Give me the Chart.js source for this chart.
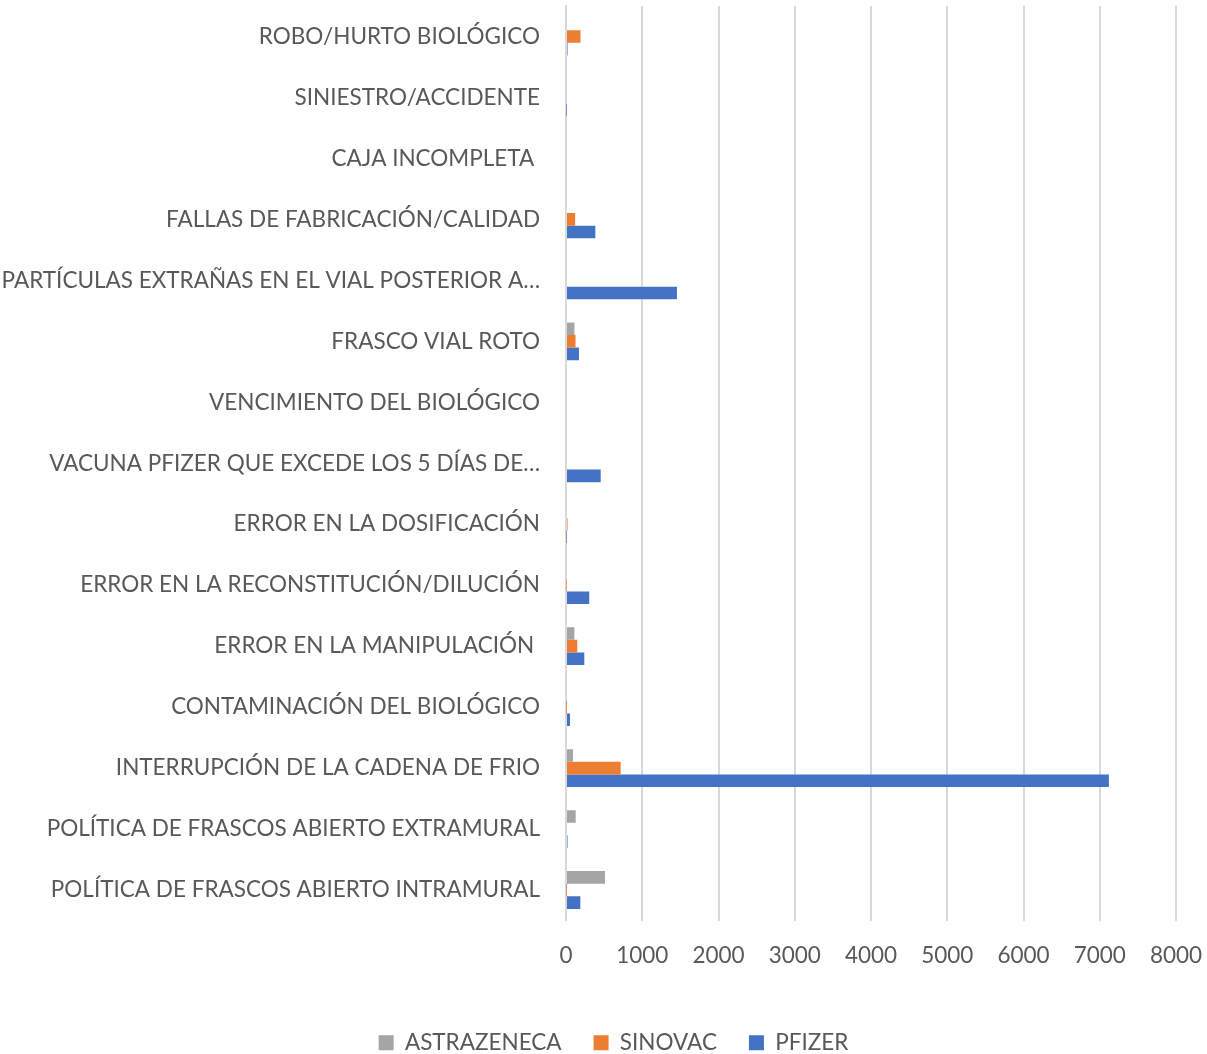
<!DOCTYPE html>
<html>
<head>
<meta charset="utf-8">
<script src="https://cdn.jsdelivr.net/npm/chart.js@4"></script>
<style>
  html, body { margin: 0; padding: 0; background: #fff; }
  #wrap { width: 1207px; height: 1054px; }
</style>
</head>
<body>
<div id="wrap"><canvas id="chart" width="1207" height="1054"></canvas></div>
<script>
// categorias (de arriba hacia abajo)
const categorias = [
    'ROBO/HURTO BIOLÓGICO',
    'SINIESTRO/ACCIDENTE',
    'CAJA INCOMPLETA ',
    'FALLAS DE FABRICACIÓN/CALIDAD',
    'PARTÍCULAS EXTRAÑAS EN EL VIAL POSTERIOR A…',
    'FRASCO VIAL ROTO',
    'VENCIMIENTO DEL BIOLÓGICO',
    'VACUNA PFIZER QUE EXCEDE LOS 5 DÍAS DE…',
    'ERROR EN LA DOSIFICACIÓN',
    'ERROR EN LA RECONSTITUCIÓN/DILUCIÓN',
    'ERROR EN LA MANIPULACIÓN ',
    'CONTAMINACIÓN DEL BIOLÓGICO',
    'INTERRUPCIÓN DE LA CADENA DE FRIO',
    'POLÍTICA DE FRASCOS ABIERTO EXTRAMURAL',
    'POLÍTICA DE FRASCOS ABIERTO INTRAMURAL'
];

const astrazeneca = [0, 0, 0, 0, 0, 110, 0, 0, 0, 0, 110, 0, 92, 127, 511];
const sinovac     = [190, 0, 0, 120, 0, 125, 0, 0, 20, 5, 148, 3, 717, 0, 3];
const pfizer      = [20, 5, 0, 385, 1455, 170, 0, 455, 5, 305, 240, 52, 7120, 20, 188];

const xTicks = [0, 1000, 2000, 3000, 4000, 5000, 6000, 7000, 8000];

const fuente = 'Lato, "Open Sans", sans-serif';
const gris = '#595959';
const tam = 22.5;

// desplaza un poco la leyenda hacia la derecha (como en el original)
const moverLeyenda = {
    id: 'moverLeyenda',
    afterLayout(chart) {
        if (chart.legend) chart.legend.left += 20;
    }
};

const ctx = document.getElementById('chart');

new Chart(ctx, {
    type: 'bar',
    data: {
        labels: categorias,
        datasets: [
            { label: 'ASTRAZENECA', data: astrazeneca, backgroundColor: '#A5A5A5' },
            { label: 'SINOVAC', data: sinovac, backgroundColor: '#ED7D31' },
            { label: 'PFIZER', data: pfizer, backgroundColor: '#4472C4' }
        ]
    },
    plugins: [moverLeyenda],
    options: {
        indexAxis: 'y',
        responsive: false,
        animation: false,
        datasets: {
            bar: { categoryPercentage: 0.62, barPercentage: 1.0 }
        },
        layout: { padding: { top: 6, right: 0, left: 0, bottom: -10 } },
        plugins: {
            tooltip: { enabled: false },
            legend: {
                position: 'bottom',
                labels: {
                    color: gris,
                    font: { family: fuente, size: tam },
                    boxWidth: 15,
                    boxHeight: 15,
                    padding: 32
                }
            }
        },
        scales: {
            x: {
                min: 0,
                max: 8000,
                afterBuildTicks: (axis) => { axis.ticks = xTicks.map(v => ({ value: v })); },
                afterFit: (axis) => {
                    axis.height = 79;
                    axis.paddingLeft = 0;
                    axis.paddingRight = 31;
                },
                grid: { color: '#D9D9D9', lineWidth: 2, drawTicks: false },
                border: { display: false },
                ticks: {
                    color: gris,
                    font: { family: fuente, size: tam },
                    padding: 22,
                    maxRotation: 0,
                    callback: (v) => String(v)
                }
            },
            y: {
                afterFit: (axis) => {
                    axis.width = 566;
                    axis.paddingTop = 0;
                    axis.paddingBottom = 0;
                },
                grid: { display: false, drawTicks: false },
                border: { color: '#D9D9D9', width: 2 },
                ticks: {
                    color: gris,
                    font: { family: fuente, size: tam },
                    padding: 26,
                    autoSkip: false
                }
            }
        }
    }
});
</script>
</body>
</html>
